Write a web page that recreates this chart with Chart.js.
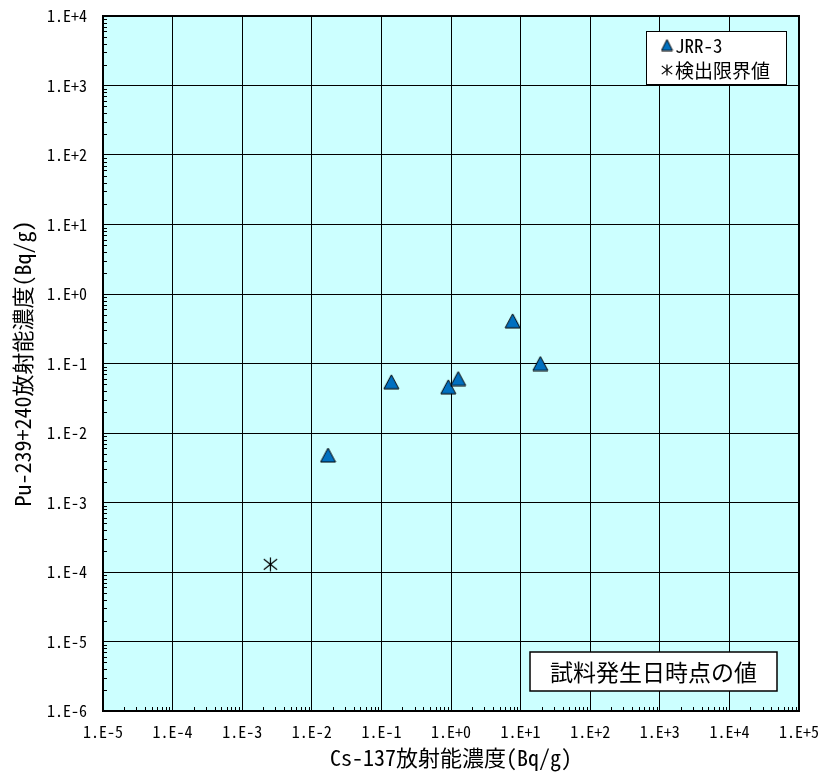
<!DOCTYPE html>
<html>
<head>
<meta charset="utf-8">
<script src="https://cdn.jsdelivr.net/npm/chart.js@4.4.1/dist/chart.umd.min.js"></script>
<style>
html,body{margin:0;padding:0;background:#fff;}
#wrap{width:823px;height:776px;position:relative;}
</style>
</head>
<body>
<div id="wrap"><canvas id="c" width="823" height="776"></canvas></div>
<script>
// ---- data ----
const xTickLabels = ['1.E-5','1.E-4','1.E-3','1.E-2','1.E-1','1.E+0','1.E+1','1.E+2','1.E+3','1.E+4','1.E+5'];
const yTickLabels = ['1.E-6','1.E-5','1.E-4','1.E-3','1.E-2','1.E-1','1.E+0','1.E+1','1.E+2','1.E+3','1.E+4'];
const seriesLabels = ['JRR-3', '検出限界値'];
const jrrX = [0.0171, 0.139, 0.914, 1.27, 7.69, 19.2];
const jrrY = [0.00482, 0.0546, 0.0462, 0.0608, 0.411, 0.100];
const dlX = [0.00254];
const dlY = [0.000129];
const xTitle = 'Cs-137放射能濃度(Bq/g)';
const yTitle = 'Pu-239+240放射能濃度(Bq/g)';
const noteText = '試料発生日時点の値';

const FONT = "'Noto Sans Mono CJK JP', 'Noto Sans CJK JP', monospace";
const TRI_FILL = '#0070C0';

function makeTriangle(w, h) {
  const c = document.createElement('canvas');
  c.width = w + 2; c.height = h + 2;
  const g = c.getContext('2d');
  g.beginPath();
  g.moveTo((w + 2) / 2, 1);
  g.lineTo(w + 1, h + 1);
  g.lineTo(1, h + 1);
  g.closePath();
  g.fillStyle = TRI_FILL; g.fill();
  g.lineWidth = 1; g.strokeStyle = '#000'; g.stroke();
  return c;
}
function makeAsterisk(s) {
  const c = document.createElement('canvas');
  c.width = s; c.height = s;
  const g = c.getContext('2d');
  g.strokeStyle = '#000'; g.lineWidth = 1.2;
  const m = s / 2, r = s / 2 - 0.5;
  g.beginPath();
  g.moveTo(m, m - r); g.lineTo(m, m + r);
  g.moveTo(m - r * 0.95, m - r * 0.75); g.lineTo(m + r * 0.95, m + r * 0.75);
  g.moveTo(m - r * 0.95, m + r * 0.75); g.lineTo(m + r * 0.95, m - r * 0.75);
  g.stroke();
  return c;
}
const triImg = makeTriangle(15, 14);
const triSmall = makeTriangle(11, 11);
const astImg = makeAsterisk(15);
const astSmall = makeAsterisk(12);

const decadeTicks = (n, start) => Array.from({length: n}, (_, i) => ({value: Math.pow(10, start + i)}));

const framePlugin = {
  id: 'frame',
  beforeDraw(chart) {
    const {ctx, chartArea: a} = chart;
    ctx.save();
    ctx.fillStyle = '#CCFFFF';
    ctx.fillRect(a.left, a.top, a.right - a.left, a.bottom - a.top);
    ctx.restore();
  },
  afterDraw(chart) {
    const {ctx, chartArea: a, scales} = chart;
    ctx.save();
    // minor ticks
    ctx.strokeStyle = '#000'; ctx.lineWidth = 1;
    ctx.beginPath();
    for (let e = -5; e < 5; e++) {
      for (let k = 2; k <= 9; k++) {
        const px = Math.round(scales.x.getPixelForValue(k * Math.pow(10, e))) + 0.5;
        ctx.moveTo(px, a.bottom); ctx.lineTo(px, a.bottom - 4);
      }
    }
    for (let e = -6; e < 4; e++) {
      for (let k = 2; k <= 9; k++) {
        const py = Math.round(scales.y.getPixelForValue(k * Math.pow(10, e))) + 0.5;
        ctx.moveTo(a.left, py); ctx.lineTo(a.left + 4, py);
      }
    }
    ctx.stroke();
    // frame
    ctx.lineWidth = 2;
    ctx.strokeRect(a.left, a.top, a.right - a.left, a.bottom - a.top);

    // legend box
    const lx = 646, ly = 31, lw = 140, lh = 53;
    ctx.fillStyle = '#fff';
    ctx.fillRect(lx, ly, lw, lh);
    ctx.lineWidth = 1; ctx.strokeStyle = '#000';
    ctx.strokeRect(lx + 0.5, ly + 0.5, lw, lh);
    ctx.fillStyle = '#000';
    ctx.font = '19px ' + FONT;
    ctx.textBaseline = 'middle'; ctx.textAlign = 'left';
    const ds = chart.data.datasets;
    const rows = [45, 70];
    ds.forEach((d, i) => {
      const img = i === 0 ? triSmall : astSmall;
      ctx.drawImage(img, 667 - img.width / 2, rows[i] - img.height / 2);
      ctx.fillText(d.label, 675, rows[i] + 1);
    });

    // note box
    const nx = 530, ny = 652, nw = 247, nh = 39;
    ctx.fillStyle = '#fff';
    ctx.fillRect(nx, ny, nw, nh);
    ctx.lineWidth = 1.5; ctx.strokeStyle = '#000';
    ctx.strokeRect(nx, ny, nw, nh);
    ctx.fillStyle = '#000';
    ctx.font = '23px ' + FONT;
    ctx.textAlign = 'center';
    ctx.fillText(noteText, nx + nw / 2, ny + nh / 2 + 1);
    ctx.restore();
  }
};

new Chart(document.getElementById('c'), {
  type: 'scatter',
  data: {
    datasets: [
      {
        label: seriesLabels[0],
        data: jrrX.map((x, i) => ({x, y: jrrY[i]})),
        pointStyle: triImg,
        pointRadius: 8,
        showLine: false
      },
      {
        label: seriesLabels[1],
        data: dlX.map((x, i) => ({x, y: dlY[i]})),
        pointStyle: astImg,
        pointRadius: 8,
        showLine: false
      }
    ]
  },
  options: {
    responsive: false,
    animation: false,
    events: [],
    layout: {padding: {left: 0, top: 16, right: 24, bottom: 0}},
    plugins: {legend: {display: false}, tooltip: {enabled: false}},
    scales: {
      x: {
        type: 'logarithmic',
        min: 1e-5, max: 1e5,
        afterBuildTicks: s => { s.ticks = decadeTicks(xTickLabels.length, -5); },
        afterFit: s => { s.height = 65; s.paddingLeft = 0; s.paddingRight = 0; },
        grid: {color: '#000', lineWidth: 1, drawTicks: false},
        border: {display: false},
        ticks: {
          autoSkip: false, maxRotation: 0, padding: 11,
          color: '#000', font: {family: FONT, size: 16},
          callback: (v, i) => xTickLabels[i]
        },
        title: {display: true, text: xTitle, color: '#000', font: {family: FONT, size: 22}, padding: {top: 2, bottom: 5}}
      },
      y: {
        type: 'logarithmic',
        min: 1e-6, max: 1e4,
        afterBuildTicks: s => { s.ticks = decadeTicks(yTickLabels.length, -6); },
        afterFit: s => { s.width = 103; s.paddingTop = 0; s.paddingBottom = 0; },
        grid: {color: '#000', lineWidth: 1, drawTicks: false},
        border: {display: false},
        ticks: {
          autoSkip: false, padding: 16,
          color: '#000', font: {family: FONT, size: 16},
          callback: (v, i) => yTickLabels[i]
        },
        title: {display: true, text: yTitle, color: '#000', font: {family: FONT, size: 22}, padding: {top: 9, bottom: 0}}
      }
    }
  },
  plugins: [framePlugin]
});
</script>
</body>
</html>
